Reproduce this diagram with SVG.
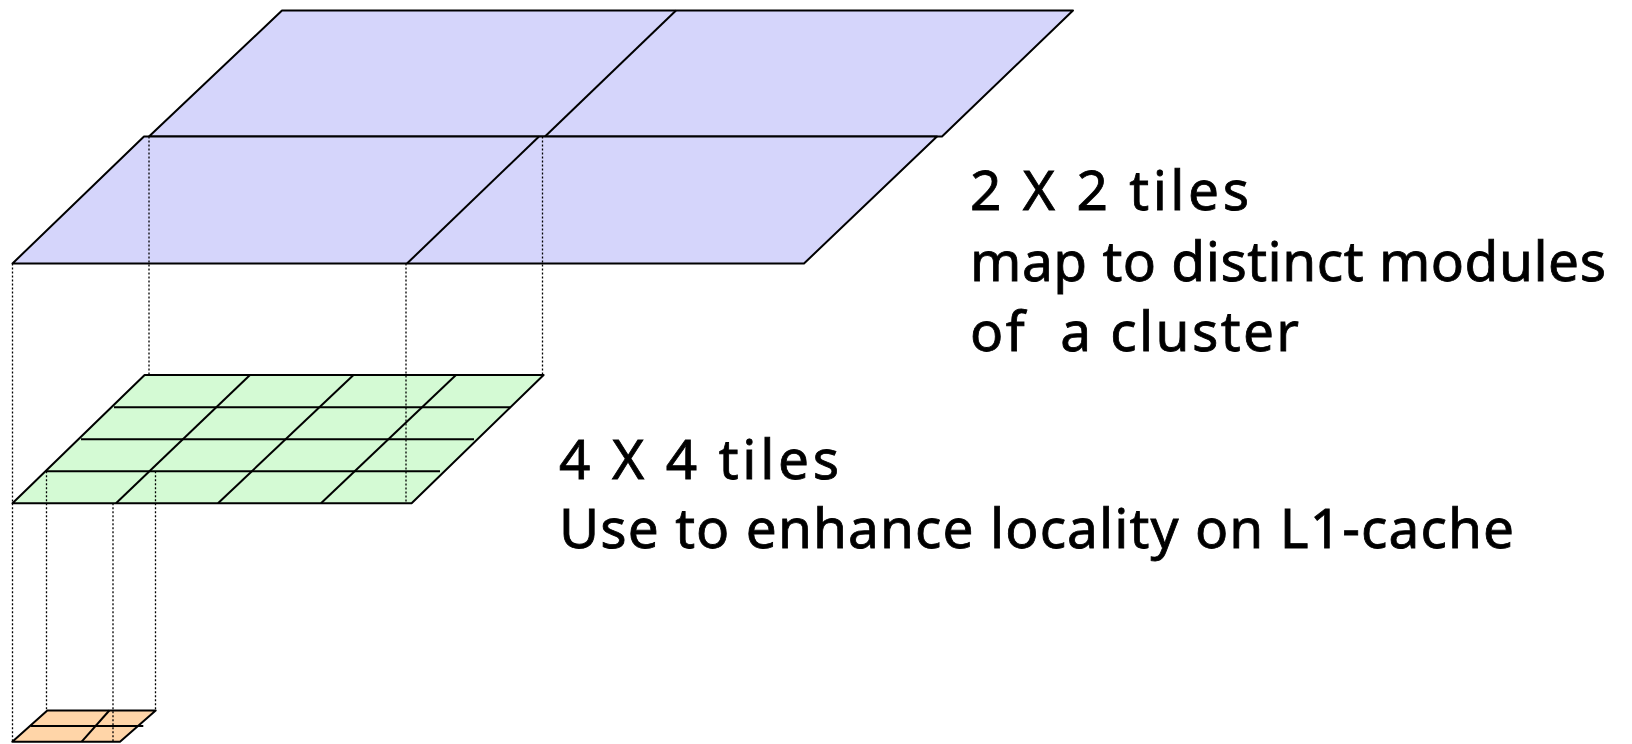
<svg xmlns="http://www.w3.org/2000/svg" width="1632" height="744" viewBox="0 0 1632 744">
  <style>
    .edge { stroke: #000; stroke-width: 2; fill: none; stroke-linejoin: round; }
    .blue { fill: #D5D5FB; stroke: #000; stroke-width: 2; stroke-linejoin: round; }
    .green { fill: #D4FAD4; stroke: #000; stroke-width: 2; stroke-linejoin: round; }
    .orange { fill: #FFD5A8; stroke: #000; stroke-width: 2; stroke-linejoin: round; }
    .proj { stroke: #000; stroke-width: 1.3; stroke-dasharray: 2 2; fill: none; }
    .label { font-family: "Noto Sans", "DejaVu Sans", sans-serif; font-size: 55px; fill: #000; stroke: #000; stroke-width: 0.8; }
  </style>
  <rect width="1632" height="744" fill="#fff"/>

  <!-- top level: 2 x 2 tiles -->
  <g id="tiles-2x2">
    <polygon class="blue" points="282,10.5 1073,10.5 942,136.5 149,136.5"/>
    <polygon class="blue" points="144,136.5 937,136.5 804,263.5 12.5,263.5"/>
    <line class="edge" x1="676" y1="10.5" x2="545" y2="136.5"/>
    <line class="edge" x1="539" y1="136.5" x2="407" y2="263.5"/>
  </g>

  <!-- middle level: 4 x 4 tiles -->
  <g id="tiles-4x4">
    <polygon class="green" points="144.6,375 543.6,375 411.6,503.3 12.5,503.3"/>
    <line class="edge" x1="114" y1="407.3" x2="510.5" y2="407.3"/>
    <line class="edge" x1="81" y1="439.3" x2="474" y2="439.3"/>
    <line class="edge" x1="46" y1="471.3" x2="440" y2="471.3"/>
    <line class="edge" x1="250" y1="375" x2="116" y2="503.3"/>
    <line class="edge" x1="353.5" y1="375" x2="218" y2="503.3"/>
    <line class="edge" x1="456" y1="375" x2="321" y2="503.3"/>
  </g>

  <!-- bottom level: small tile -->
  <g id="tiles-small">
    <polygon class="orange" points="47.3,710.5 155.7,710.5 120,741.7 12.3,741.7"/>
    <line class="edge" x1="30.7" y1="726" x2="143.3" y2="726"/>
    <line class="edge" x1="109.3" y1="710.5" x2="81.7" y2="741.7"/>
  </g>

  <!-- dotted projection lines between levels -->
  <g id="connectors">
    <line class="proj" x1="12.5" y1="263.5" x2="12.5" y2="503.3"/>
    <line class="proj" x1="149" y1="136.5" x2="149" y2="375"/>
    <line class="proj" x1="406" y1="263.5" x2="406" y2="503.3"/>
    <line class="proj" x1="542.5" y1="136.5" x2="542.5" y2="375"/>
    <line class="proj" x1="12.5" y1="503.3" x2="12.5" y2="741.7"/>
    <line class="proj" x1="46.5" y1="471.3" x2="46.5" y2="710.5"/>
    <line class="proj" x1="113" y1="503.3" x2="113" y2="741.7"/>
    <line class="proj" x1="155.5" y1="471.3" x2="155.5" y2="710.5"/>
  </g>

  <!-- captions -->
  <g id="label-2x2">
    <text class="label" x="970" y="210" textLength="279" lengthAdjust="spacing">2 X 2 tiles</text>
    <text class="label" x="970" y="281" textLength="636" lengthAdjust="spacing">map to distinct modules</text>
    <text class="label" x="970" y="351" textLength="329" lengthAdjust="spacing" xml:space="preserve">of  a cluster</text>
  </g>
  <g id="label-4x4">
    <text class="label" x="559" y="479" textLength="280" lengthAdjust="spacing">4 X 4 tiles</text>
    <text class="label" x="559" y="548" textLength="955" lengthAdjust="spacing">Use to enhance locality on L1-cache</text>
  </g>
</svg>
